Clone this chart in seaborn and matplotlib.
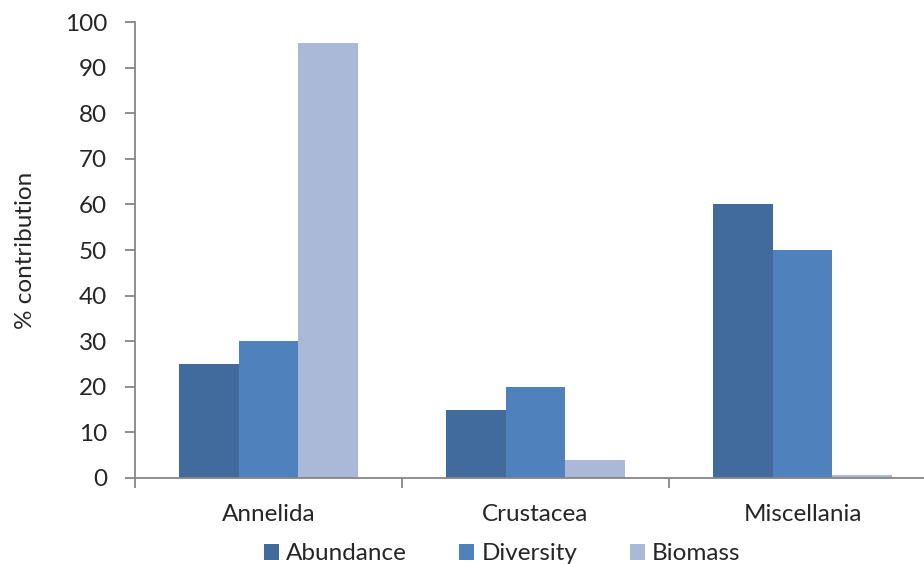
import matplotlib
matplotlib.use("Agg")
import matplotlib.pyplot as plt
import seaborn as sns
import pandas as pd
from matplotlib.patches import Patch

categories = ["Annelida", "Crustacea", "Miscellania"]
abundance = [25, 15, 60]
diversity = [30, 20, 50]
biomass = [95.5, 3.9, 0.6]
series_names = ["Abundance", "Diversity", "Biomass"]
y_ticks = [0, 10, 20, 30, 40, 50, 60, 70, 80, 90, 100]

colors = ["#416A9D", "#4F81BD", "#AAB9D7"]

rows = []
for name, vals in zip(series_names, [abundance, diversity, biomass]):
    for cat, v in zip(categories, vals):
        rows.append({"group": cat, "series": name, "value": v})
df = pd.DataFrame(rows)

sns.set_theme(style="white")
plt.rcParams["font.family"] = ["Lato", "DejaVu Sans"]

fs = 17.5
fig = plt.figure(figsize=(9.24, 5.64), dpi=100)
ax = fig.add_axes([135 / 924, 86 / 564, 801 / 924, 456 / 564])

sns.barplot(data=df, x="group", y="value", hue="series", order=categories,
            hue_order=series_names, palette=colors, width=0.67,
            saturation=1, edgecolor="none", linewidth=0, ax=ax, legend=False)

ax.set_xlim(-0.5, 2.5)
ax.set_ylim(0, 100)
ax.set_yticks(y_ticks)
ax.set_xlabel("")
ax.set_ylabel("% contribution", fontsize=fs, labelpad=21)

axis_grey = "#868686"
for side in ["top", "right"]:
    ax.spines[side].set_visible(False)
for side in ["left", "bottom"]:
    ax.spines[side].set_color(axis_grey)
    ax.spines[side].set_linewidth(1.3)

ax.tick_params(axis="y", which="major", direction="out", length=7, width=1.3,
               color=axis_grey, labelsize=fs, pad=13, left=True)
ax.tick_params(axis="x", which="major", length=0, labelsize=fs, pad=19)
ax.set_xticks([-0.5, 0.5, 1.5, 2.5], minor=True)
ax.tick_params(axis="x", which="minor", direction="out", length=7, width=1.3,
               color=axis_grey, bottom=True)

handles = [Patch(facecolor=c, edgecolor="none") for c in colors]
fig.legend(handles, series_names, loc="center", bbox_to_anchor=(502 / 924, 10 / 564),
           ncol=3, frameon=False, fontsize=fs, handlelength=0.62,
           handleheight=0.62, handletextpad=0.3, columnspacing=2.15)

fig.savefig("out.png", dpi=100)
